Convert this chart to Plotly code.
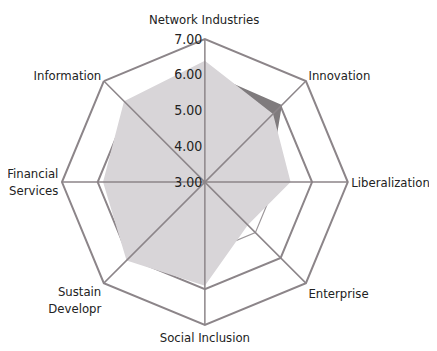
import plotly.graph_objects as go

# ---------------------------------------------------------------------------
# Data
# ---------------------------------------------------------------------------
CATEGORIES = [
    "Network Industries", "Innovation", "Liberalization", "Enterprise",
    "Social Inclusion", "Sustain<br>Developr", "Financial<br>Services", "Information",
]

# main country profile (light grey area)
COUNTRY = [6.4, 5.7, 5.4, 4.7, 5.9, 6.1, 5.85, 6.2]
# comparison profile, only visible where it sticks out (dark spike)
PEER_HIGH = [6.1, 6.05, 4.8, 4.5, 5.6, 5.8, 5.6, 5.9]
# comparison outline, only visible near Enterprise
PEER_LINE = [5.5, 5.3, 5.0, 5.0, 5.0, 5.3, 5.2, 5.4]

RADIAL_TICKS = [3, 4, 5, 6, 7]
RING_LEVEL = 6
R_MIN, R_MAX = 3, 7

FRAME = "#8c8589"
FONT = "DejaVu Sans Condensed, Liberation Sans Narrow, sans-serif"


def closed(vals):
    return list(vals) + [vals[0]]


theta = closed(CATEGORIES)

fig = go.Figure()

# inner ring at 6.00
fig.add_trace(go.Scatterpolar(
    r=[RING_LEVEL] * len(theta), theta=theta, mode="lines",
    line=dict(color=FRAME, width=2), hoverinfo="skip", showlegend=False,
))

fig.add_trace(go.Scatterpolar(
    r=closed(PEER_HIGH), theta=theta, mode="lines", fill="toself",
    fillcolor="#7f7b7d", line=dict(width=0), showlegend=False,
))

fig.add_trace(go.Scatterpolar(
    r=closed(PEER_LINE), theta=theta, mode="lines",
    line=dict(color="#9c979a", width=1.2), showlegend=False,
))

fig.add_trace(go.Scatterpolar(
    r=closed(COUNTRY), theta=theta, mode="lines", fill="toself",
    fillcolor="#d8d5d8", line=dict(width=0), showlegend=False,
))

# spokes drawn over the areas, as in the original
for cat in CATEGORIES:
    fig.add_trace(go.Scatterpolar(
        r=[R_MIN, R_MAX], theta=[cat, cat], mode="lines",
        line=dict(color=FRAME, width=1.5), hoverinfo="skip", showlegend=False,
    ))

# top label sits higher than plotly puts it (clear of the 7.00 tick)
tick_text = [""] + CATEGORIES[1:]
fig.add_annotation(
    text=CATEGORIES[0], xref="paper", yref="paper",
    x=0.448, y=0.966, xanchor="center", yanchor="middle",
    showarrow=False, font=dict(family=FONT, size=13, color="#222222"),
)

fig.update_layout(
    width=437,
    height=351,
    margin=dict(l=0, r=0, t=0, b=0),
    paper_bgcolor="white",
    font=dict(family=FONT, size=13, color="#222222"),
    polar=dict(
        domain=dict(x=[0.1235, 0.7775], y=[0.0965, 0.9115]),
        bgcolor="white",
        gridshape="linear",
        radialaxis=dict(
            range=[R_MIN, R_MAX],
            tickvals=RADIAL_TICKS,
            tickformat=".2f",
            angle=90,
            tickangle=90,
            side="counterclockwise",
            showgrid=False,
            showline=False,
            ticks="",
            tickfont=dict(size=14, color="#222222"),
            layer="above traces",
        ),
        angularaxis=dict(
            direction="clockwise",
            rotation=90,
            tickmode="array",
            tickvals=CATEGORIES,
            ticktext=tick_text,
            showline=True,
            linecolor=FRAME,
            linewidth=2,
            showgrid=False,
            ticks="",
        ),
    ),
)

fig.write_html("out.html")
